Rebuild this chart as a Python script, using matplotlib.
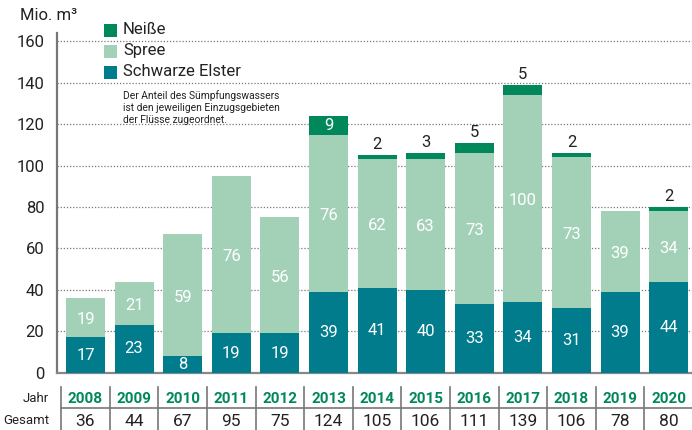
import matplotlib
matplotlib.use("Agg")
import matplotlib.pyplot as plt
import matplotlib.transforms as mtransforms
from matplotlib.patches import Rectangle
from matplotlib.lines import Line2D
import numpy as np

plt.rcParams['font.family'] = ['Roboto', 'DejaVu Sans']

years = ['2008', '2009', '2010', '2011', '2012', '2013', '2014',
         '2015', '2016', '2017', '2018', '2019', '2020']
elster = [17, 23, 8, 19, 19, 39, 41, 40, 33, 34, 31, 39, 44]
spree = [19, 21, 59, 76, 56, 76, 62, 63, 73, 100, 73, 39, 34]
neisse = [0, 0, 0, 0, 0, 9, 2, 3, 5, 5, 2, 0, 2]
gesamt = [36, 44, 67, 95, 75, 124, 105, 106, 111, 139, 106, 78, 80]

c_neisse = '#00885a'
c_spree = '#a3d1b8'
c_elster = '#007c8c'
txt = '#222222'

fig = plt.figure(figsize=(6.92, 4.30), dpi=100)
ax = fig.add_axes([57 / 692, 0.1333, 1 - 57 / 692, 0.923 - 0.1333])

x = np.arange(len(years))
w = 0.8
el = np.array(elster)
sp = np.array(spree)
ne = np.array(neisse)

ax.bar(x, el, w, color=c_elster, zorder=3)
ax.bar(x, sp, w, bottom=el, color=c_spree, zorder=3)
ax.bar(x, ne, w, bottom=el + sp, color=c_neisse, zorder=3)

for i in x:
    ax.text(i, el[i] / 2, str(el[i]), ha='center', va='center',
            color='white', fontsize=12, zorder=4)
    ax.text(i, el[i] + sp[i] / 2 - 1, str(sp[i]), ha='center', va='center',
            color='white', fontsize=12, zorder=4)
    if ne[i] >= 8:
        ax.text(i, el[i] + sp[i] + ne[i] / 2, str(ne[i]), ha='center',
                va='center', color='white', fontsize=12, zorder=4)
    elif ne[i] > 0:
        ax.text(i, el[i] + sp[i] + ne[i] + 1.5, str(ne[i]), ha='center',
                va='bottom', color=txt, fontsize=12, zorder=4)

ax.set_xlim(-0.586, 12.48)
ax.set_ylim(0, 164)
ax.set_yticks(range(0, 161, 20))
ax.set_xticks([])
ax.yaxis.grid(True, linestyle=(0, (1, 1.5)), color='#777777', linewidth=0.9, zorder=0)
ax.tick_params(axis='y', length=0, labelsize=12, labelcolor=txt, pad=9)
for s in ['top', 'right']:
    ax.spines[s].set_visible(False)
ax.spines['left'].set_color('#777777')
ax.spines['left'].set_linewidth(1.6)
ax.spines['bottom'].set_color('#888888')
ax.spines['bottom'].set_linewidth(1.6)

# white area behind the legend
ax.add_patch(Rectangle((0.19, 115), 4.42, 60, facecolor='white',
                       edgecolor='none', zorder=1, clip_on=False))

fig.text(20 / 692, 1 - 16 / 430, 'Mio. m³', fontsize=12, color=txt,
         ha='left', va='center')

# legend
leg = [('Neiße', c_neisse), ('Spree', c_spree), ('Schwarze Elster', c_elster)]
for k, (lab, col) in enumerate(leg):
    yy = 30 + k * 21
    fig.patches.append(Rectangle((104 / 692, 1 - (yy + 6.5) / 430), 13 / 692,
                                 13 / 430, transform=fig.transFigure,
                                 facecolor=col, edgecolor='none'))
    fig.text(123 / 692, 1 - yy / 430, lab, fontsize=12, color=txt,
             ha='left', va='center')
fig.text(123 / 692, 1 - 90 / 430,
         'Der Anteil des Sümpfungswassers\nist den jeweiligen Einzugsgebieten\nder Flüsse zugeordnet.',
         fontsize=7.4, color=txt, ha='left', va='top', linespacing=1.25)

# table below
tr = mtransforms.blended_transform_factory(ax.transData, fig.transFigure)
y_jahr = 1 - 399 / 430
y_ges = 1 - 421 / 430
fig.text(49 / 692, y_jahr, 'Jahr', fontsize=9.5, color=txt, ha='right', va='center')
fig.text(49 / 692, y_ges, 'Gesamt', fontsize=9.5, color=txt, ha='right', va='center')
for i in x:
    fig.text(i, y_jahr, years[i], transform=tr, fontsize=11, fontweight='bold',
             color=c_neisse, ha='center', va='center')
    fig.text(i, y_ges, str(gesamt[i]), transform=tr, fontsize=12.5,
             color=txt, ha='center', va='center')
    fig.add_artist(Line2D([i - 0.5, i - 0.5], [1 - 387 / 430, 0],
                          transform=tr, color='#777777', linewidth=1.2))
fig.add_artist(Line2D([-0.5, 12.48], [1 - 408 / 430, 1 - 408 / 430],
                      transform=tr, color='#777777', linewidth=1.2))

fig.savefig('out.png', dpi=100)
